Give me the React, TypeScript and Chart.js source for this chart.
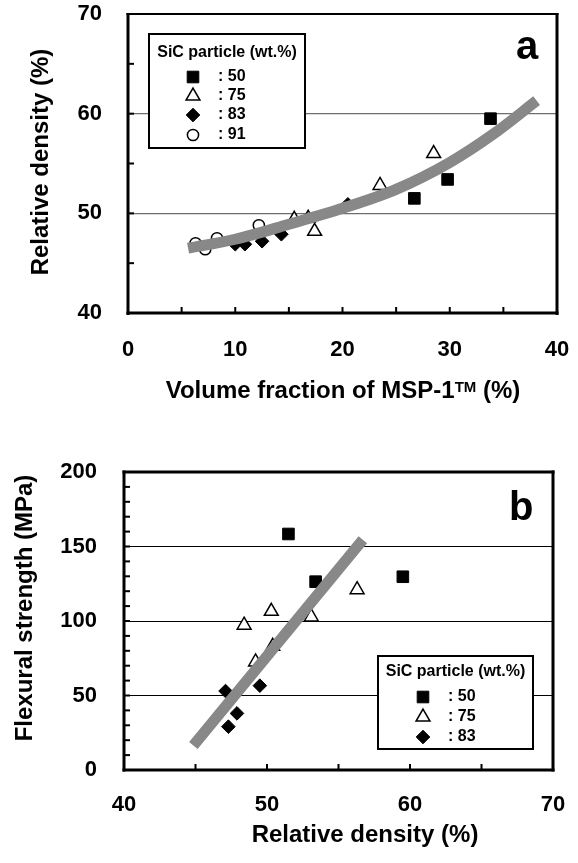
import React, { useEffect, useRef } from 'react';
import { Chart, registerables } from 'chart.js';
Chart.register(...registerables);

const FONT = '"Liberation Sans", Arial, Helvetica, sans-serif';

// ---------- Panel a data ----------
const aXRange = [0, 40];
const aYRange = [40, 70];
const aGridValues = [50, 60];
const aXTickMarks = [5, 10, 15, 20, 25, 30, 35];
const aYTickMarks = [45, 50, 55, 60, 65];

const a50X = [26.7, 29.8, 33.8];
const a50Y = [51.5, 53.4, 59.5];
const a75X = [15.5, 16.8, 17.4, 23.5, 28.5];
const a75Y = [49.4, 49.5, 48.2, 52.8, 56.0];
const a83X = [10.0, 10.9, 12.5, 14.3, 20.5];
const a83Y = [46.9, 46.9, 47.2, 47.9, 50.9];
const a91X = [6.3, 7.2, 8.3, 12.2];
const a91Y = [47.0, 46.4, 47.5, 48.8];
const aFitX = [5.6, 10, 15, 20, 25, 30, 34, 38.1];
const aFitY = [46.5, 47.4, 48.9, 50.5, 52.4, 55.1, 57.9, 61.3];

// ---------- Panel b data ----------
const bXRange = [40, 70];
const bYRange = [0, 200];
const bGridValues = [50, 100, 150];
const bXTickMarks = [45, 50, 55, 60, 65];
const bYTickMarks = [10, 20, 30, 40, 50, 60, 70, 80, 90, 100, 110, 120, 130, 140, 150, 160, 170, 180, 190];

const b50X = [51.5, 53.4, 59.5];
const b50Y = [158.4, 126.4, 129.7];
const b75X = [48.4, 50.3, 53.1, 56.3, 49.2, 50.4];
const b75Y = [97.2, 106.5, 102.7, 121.0, 72.5, 83.0];
const b83X = [47.1, 49.5, 47.9, 47.3];
const b83Y = [53.0, 56.6, 38.0, 29.1];
const bFitX = [44.85, 56.7];
const bFitY = [16.5, 154.5];

const legendTitle = 'SiC particle (wt.%)';
const aLegendLabels = [': 50', ': 75', ': 83', ': 91'];
const bLegendLabels = [': 50', ': 75', ': 83'];

const pts = (xs: number[], ys: number[]) => xs.map((x, i) => ({ x, y: ys[i] }));

type MarkerStyle = 'rect' | 'triangle' | 'rectRot' | 'circle';
const MARKERS: Record<MarkerStyle, { r: number; fill: string; stroke: string; bw: number }> = {
  rect: { r: 8.2, fill: '#000', stroke: '#000', bw: 1 },
  triangle: { r: 8, fill: '#fff', stroke: '#000', bw: 1.5 },
  rectRot: { r: 6.8, fill: '#000', stroke: '#000', bw: 1 },
  circle: { r: 5.6, fill: '#fff', stroke: '#000', bw: 1.5 },
};

function drawMarker(ctx: CanvasRenderingContext2D, style: MarkerStyle, x: number, y: number) {
  const m = MARKERS[style];
  const r = m.r;
  ctx.beginPath();
  if (style === 'rect') {
    const s = r * Math.SQRT1_2;
    ctx.rect(x - s, y - s, 2 * s, 2 * s);
  } else if (style === 'triangle') {
    ctx.moveTo(x, y - r);
    ctx.lineTo(x + r * Math.sin(Math.PI / 3), y + r / 2);
    ctx.lineTo(x - r * Math.sin(Math.PI / 3), y + r / 2);
    ctx.closePath();
  } else if (style === 'rectRot') {
    ctx.moveTo(x - r, y);
    ctx.lineTo(x, y - r);
    ctx.lineTo(x + r, y);
    ctx.lineTo(x, y + r);
    ctx.closePath();
  } else {
    ctx.arc(x, y, r, 0, Math.PI * 2);
  }
  ctx.fillStyle = m.fill;
  ctx.fill();
  ctx.lineWidth = m.bw;
  ctx.strokeStyle = m.stroke;
  ctx.stroke();
}

function markerDataset(data: { x: number; y: number }[], style: MarkerStyle) {
  const m = MARKERS[style];
  return {
    type: 'scatter' as const,
    data,
    pointStyle: style,
    pointRadius: m.r,
    pointBackgroundColor: m.fill,
    pointBorderColor: m.stroke,
    pointBorderWidth: m.bw,
    showLine: false,
  };
}

function fitDataset(data: { x: number; y: number }[], tension: number) {
  return {
    type: 'line' as const,
    data,
    showLine: true,
    borderColor: '#888888',
    borderWidth: 11,
    borderCapStyle: 'butt' as const,
    pointRadius: 0,
    tension,
    cubicInterpolationMode: 'monotone' as const,
    fill: false,
  };
}

interface DecoCfg {
  borderTop: number;
  borderOther: number;
  xTickMarks: number[];
  yTickMarks: number[];
  tickLen: number;
  legend: { x: number; y: number; w: number; h: number; titleY: number; symX: number; textX: number; rowsY: number[]; labels: string[]; styles: MarkerStyle[] };
  letter: { text: string; x: number; y: number };
  xTitle: { cx: number; y: number; main: string; sup?: string; tail?: string };
  yTitle: { cx: number; cy: number; text: string };
}

function makeDeco(cfg: DecoCfg) {
  return {
    id: 'deco',
    afterDatasetsDraw(chart: any) {
      const ctx: CanvasRenderingContext2D = chart.ctx;
      const { left, right, top, bottom } = chart.chartArea;
      const xs = chart.scales.x;
      const ys = chart.scales.y;
      ctx.save();
      ctx.fillStyle = '#000';
      const b = cfg.borderOther;
      // frame
      ctx.fillRect(left - b / 2, top - cfg.borderTop / 2, right - left + b, cfg.borderTop);
      ctx.fillRect(left - b / 2, bottom - b / 2, right - left + b, b);
      ctx.fillRect(left - b / 2, top - cfg.borderTop / 2, b, bottom - top + b);
      ctx.fillRect(right - b / 2, top - cfg.borderTop / 2, b, bottom - top + b);
      // inward ticks
      cfg.xTickMarks.forEach((v) => {
        const px = xs.getPixelForValue(v);
        ctx.fillRect(px - 1, bottom - cfg.tickLen, 2, cfg.tickLen);
      });
      cfg.yTickMarks.forEach((v) => {
        const py = ys.getPixelForValue(v);
        ctx.fillRect(left, py - 1, cfg.tickLen, 2);
      });
      // legend
      const L = cfg.legend;
      ctx.fillStyle = '#fff';
      ctx.fillRect(L.x, L.y, L.w, L.h);
      ctx.lineWidth = 2;
      ctx.strokeStyle = '#000';
      ctx.strokeRect(L.x, L.y, L.w, L.h);
      ctx.fillStyle = '#000';
      ctx.font = `bold 16px ${FONT}`;
      ctx.textBaseline = 'middle';
      ctx.textAlign = 'center';
      ctx.fillText(legendTitle, L.x + L.w / 2, L.titleY);
      ctx.textAlign = 'left';
      L.rowsY.forEach((ry, i) => {
        drawMarker(ctx, L.styles[i], L.symX, ry);
        ctx.fillStyle = '#000';
        ctx.font = `bold 16px ${FONT}`;
        ctx.fillText(L.labels[i], L.textX, ry);
      });
      // panel letter
      ctx.font = `bold 40px ${FONT}`;
      ctx.textBaseline = 'alphabetic';
      ctx.textAlign = 'left';
      ctx.fillText(cfg.letter.text, cfg.letter.x, cfg.letter.y);
      // x title
      const XT = cfg.xTitle;
      const mainFont = `bold 24px ${FONT}`;
      const supFont = `bold 15px ${FONT}`;
      ctx.font = mainFont;
      const w1 = ctx.measureText(XT.main).width;
      const w3 = XT.tail ? ctx.measureText(XT.tail).width : 0;
      ctx.font = supFont;
      const w2 = XT.sup ? ctx.measureText(XT.sup).width : 0;
      let sx = XT.cx - (w1 + w2 + w3) / 2;
      ctx.font = mainFont;
      ctx.fillText(XT.main, sx, XT.y);
      sx += w1;
      if (XT.sup) {
        ctx.font = supFont;
        ctx.fillText(XT.sup, sx, XT.y - 6);
        sx += w2;
      }
      if (XT.tail) {
        ctx.font = mainFont;
        ctx.fillText(XT.tail, sx, XT.y);
      }
      // y title
      const YT = cfg.yTitle;
      ctx.translate(YT.cx, YT.cy);
      ctx.rotate(-Math.PI / 2);
      ctx.font = mainFont;
      ctx.textAlign = 'center';
      ctx.textBaseline = 'middle';
      ctx.fillText(YT.text, 0, 0);
      ctx.restore();
    },
  };
}

const zeroPad = (s: any) => {
  s.paddingLeft = 0;
  s.paddingRight = 0;
  s.paddingTop = 0;
  s.paddingBottom = 0;
};

function makeConfig(opts: {
  datasets: any[];
  xRange: number[];
  yRange: number[];
  xStep: number;
  yStep: number;
  gridValues: number[];
  gridColor: string;
  gridWidth: number;
  padding: { left: number; right: number; top: number; bottom: number };
  yWidth: number;
  xHeight: number;
  yTickPad: number;
  xTickPad: number;
  deco: DecoCfg;
}) {
  const tickFont = { family: FONT, size: 22, weight: 'bold' as const };
  return {
    type: 'scatter' as const,
    data: { datasets: opts.datasets },
    options: {
      responsive: false,
      animation: false as const,
      devicePixelRatio: 1,
      layout: { padding: opts.padding },
      plugins: { legend: { display: false }, tooltip: { enabled: false } },
      scales: {
        x: {
          type: 'linear' as const,
          min: opts.xRange[0],
          max: opts.xRange[1],
          ticks: { stepSize: opts.xStep, color: '#000', font: tickFont, padding: opts.xTickPad, maxRotation: 0 },
          grid: { display: false, drawTicks: false },
          border: { display: false },
          afterFit: (s: any) => {
            s.height = opts.xHeight;
            zeroPad(s);
          },
        },
        y: {
          type: 'linear' as const,
          min: opts.yRange[0],
          max: opts.yRange[1],
          ticks: { stepSize: opts.yStep, color: '#000', font: tickFont, padding: opts.yTickPad },
          grid: {
            drawTicks: false,
            color: (c: any) => (c.tick && opts.gridValues.includes(c.tick.value) ? opts.gridColor : 'rgba(0,0,0,0)'),
            lineWidth: opts.gridWidth,
          },
          border: { display: false },
          afterFit: (s: any) => {
            s.width = opts.yWidth;
            zeroPad(s);
          },
        },
      },
    },
    plugins: [makeDeco(opts.deco)],
  };
}

export default function App() {
  const refA = useRef<HTMLCanvasElement>(null);
  const refB = useRef<HTMLCanvasElement>(null);

  useEffect(() => {
    const cfgA = makeConfig({
      datasets: [
        fitDataset(pts(aFitX, aFitY), 0.4),
        markerDataset(pts(a50X, a50Y), 'rect'),
        markerDataset(pts(a75X, a75Y), 'triangle'),
        markerDataset(pts(a83X, a83Y), 'rectRot'),
        markerDataset(pts(a91X, a91Y), 'circle'),
      ],
      xRange: aXRange,
      yRange: aYRange,
      xStep: 10,
      yStep: 10,
      gridValues: aGridValues,
      gridColor: '#6e6e6e',
      gridWidth: 1.3,
      padding: { left: 0, right: 21, top: 14, bottom: 0 },
      yWidth: 128,
      xHeight: 107,
      yTickPad: 26,
      xTickPad: 24,
      deco: {
        borderTop: 2,
        borderOther: 3,
        xTickMarks: aXTickMarks,
        yTickMarks: aYTickMarks,
        tickLen: 6,
        legend: {
          x: 149, y: 34, w: 156, h: 114, titleY: 53, symX: 193, textX: 218,
          rowsY: [77, 96, 115, 135], labels: aLegendLabels,
          styles: ['rect', 'triangle', 'rectRot', 'circle'],
        },
        letter: { text: 'a', x: 516, y: 59 },
        xTitle: { cx: 343, y: 398, main: 'Volume fraction of MSP-1', sup: 'TM', tail: ' (%)' },
        yTitle: { cx: 41, cy: 162, text: 'Relative density (%)' },
      },
    });
    const cfgB = makeConfig({
      datasets: [
        fitDataset(pts(bFitX, bFitY), 0),
        markerDataset(pts(b50X, b50Y), 'rect'),
        markerDataset(pts(b75X, b75Y), 'triangle'),
        markerDataset(pts(b83X, b83Y), 'rectRot'),
      ],
      xRange: bXRange,
      yRange: bYRange,
      xStep: 10,
      yStep: 50,
      gridValues: bGridValues,
      gridColor: '#000',
      gridWidth: 1,
      padding: { left: 0, right: 25, top: 52, bottom: 0 },
      yWidth: 124,
      xHeight: 93,
      yTickPad: 27,
      xTickPad: 22,
      deco: {
        borderTop: 3,
        borderOther: 3,
        xTickMarks: bXTickMarks,
        yTickMarks: bYTickMarks,
        tickLen: 6,
        legend: {
          x: 378, y: 236, w: 155, h: 93, titleY: 252, symX: 423, textX: 448,
          rowsY: [277, 297, 317], labels: bLegendLabels,
          styles: ['rect', 'triangle', 'rectRot'],
        },
        letter: { text: 'b', x: 509, y: 100 },
        xTitle: { cx: 365, y: 422, main: 'Relative density (%)' },
        yTitle: { cx: 25, cy: 188, text: 'Flexural strength (MPa)' },
      },
    });
    const ca = new Chart(refA.current as HTMLCanvasElement, cfgA as any);
    const cb = new Chart(refB.current as HTMLCanvasElement, cfgB as any);
    return () => {
      ca.destroy();
      cb.destroy();
    };
  }, []);

  return (
    <div style={{ position: 'absolute', left: 0, top: 0, width: 578, height: 863, background: '#fff' }}>
      <canvas ref={refA} width={578} height={420} style={{ position: 'absolute', left: 0, top: 0, width: 578, height: 420 }} />
      <canvas ref={refB} width={578} height={443} style={{ position: 'absolute', left: 0, top: 420, width: 578, height: 443 }} />
    </div>
  );
}
